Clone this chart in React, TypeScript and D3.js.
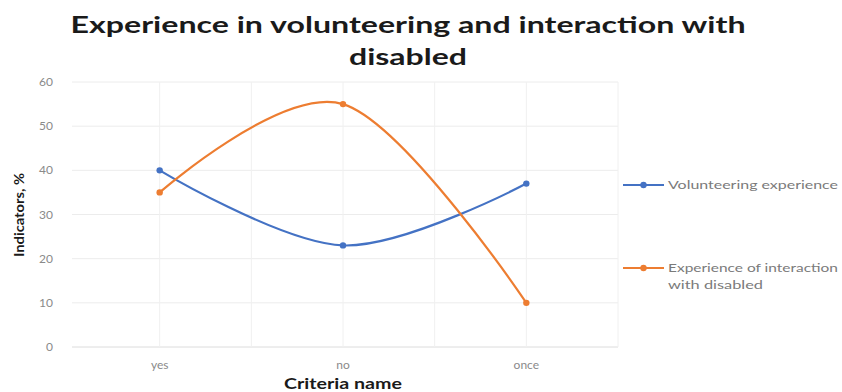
import React, { useEffect, useRef } from 'react';
import * as d3 from 'd3';

const categories = ['yes', 'no', 'once'];
const volunteering = [40, 23, 37];
const interaction = [35, 55, 10];
const yTicks = [0, 10, 20, 30, 40, 50, 60];
const seriesNames = ['Volunteering experience', 'Experience of interaction with disabled'];
const colors = ['#4472C4', '#ED7D31'];

const App = () => {
  const svgRef = useRef<SVGSVGElement>(null);

  useEffect(() => {
    const svg = d3.select(svgRef.current).attr('width', 842).attr('height', 392);
    svg.selectAll('*').remove();

    const left = 68, right = 618, top = 82, bottom = 347;
    const font = 'Lato, Liberation Sans, Arial, sans-serif';

    const x = d3.scaleBand().domain(categories).range([left, right]);
    const xc = (c: string) => (x(c) as number) + x.bandwidth() / 2;
    const y = d3.scaleLinear().domain([0, 60]).range([bottom, top]);

    // title
    svg.append('text')
      .attr('x', 408).attr('y', 33)
      .attr('text-anchor', 'middle')
      .attr('font-family', font).attr('font-weight', 'bold').attr('font-size', 23)
      .attr('fill', '#1a1a1a')
      .attr('textLength', 675).attr('lengthAdjust', 'spacingAndGlyphs')
      .text('Experience in volunteering and interaction with');
    svg.append('text')
      .attr('x', 408).attr('y', 65)
      .attr('text-anchor', 'middle')
      .attr('font-family', font).attr('font-weight', 'bold').attr('font-size', 23)
      .attr('fill', '#1a1a1a')
      .attr('textLength', 118).attr('lengthAdjust', 'spacingAndGlyphs')
      .text('disabled');

    // horizontal gridlines
    svg.append('g').selectAll('line').data(yTicks).enter().append('line')
      .attr('x1', left + 4).attr('x2', right)
      .attr('y1', d => y(d)).attr('y2', d => y(d))
      .attr('stroke', d => d === 0 ? '#dcdcdc' : '#ececec').attr('stroke-width', 1);

    // vertical gridlines (category centers and boundaries)
    const vlines: number[] = [];
    categories.forEach((c, i) => {
      vlines.push(xc(c));
      if (i > 0) vlines.push(x(c) as number);
    });
    vlines.push(right);
    svg.append('g').selectAll('line').data(vlines).enter().append('line')
      .attr('x1', d => d).attr('x2', d => d)
      .attr('y1', top).attr('y2', bottom)
      .attr('stroke', '#f0f0f0').attr('stroke-width', 1);

    // y tick labels
    svg.append('g').selectAll('text').data(yTicks).enter().append('text')
      .attr('x', 53).attr('y', d => y(d) + 4)
      .attr('text-anchor', 'end')
      .attr('font-family', font).attr('font-size', 12).attr('fill', '#8a8a8a')
      .text(d => d);

    // x tick labels
    svg.append('g').selectAll('text').data(categories).enter().append('text')
      .attr('x', d => xc(d)).attr('y', 369)
      .attr('text-anchor', 'middle')
      .attr('font-family', font).attr('font-size', 12).attr('fill', '#8a8a8a')
      .text(d => d);

    // axis titles
    svg.append('text')
      .attr('transform', 'translate(24,215) rotate(-90)')
      .attr('text-anchor', 'middle')
      .attr('font-family', font).attr('font-weight', 'bold').attr('font-size', 14)
      .attr('fill', '#1a1a1a')
      .attr('textLength', 84).attr('lengthAdjust', 'spacingAndGlyphs')
      .text('Indicators, %');
    svg.append('text')
      .attr('x', 343).attr('y', 389)
      .attr('text-anchor', 'middle')
      .attr('font-family', font).attr('font-weight', 'bold').attr('font-size', 15)
      .attr('fill', '#1a1a1a')
      .attr('textLength', 118).attr('lengthAdjust', 'spacingAndGlyphs')
      .text('Criteria name');

    // lines
    const line = d3.line<[string, number]>()
      .x(d => xc(d[0]))
      .y(d => y(d[1]))
      .curve(d3.curveCatmullRom.alpha(0));

    [volunteering, interaction].forEach((vals, i) => {
      const pts: [string, number][] = categories.map((c, j) => [c, vals[j]]);
      svg.append('path')
        .datum(pts)
        .attr('d', line)
        .attr('fill', 'none')
        .attr('stroke', colors[i])
        .attr('stroke-width', 2.2);
      svg.append('g').selectAll('circle').data(pts).enter().append('circle')
        .attr('cx', d => xc(d[0])).attr('cy', d => y(d[1]))
        .attr('r', 3.2)
        .attr('fill', colors[i]);
    });

    // legend
    const legendY = [185, 268];
    const legendText = (g: any, txt: string, yy: number, len: number) => {
      g.append('text')
        .attr('x', 668).attr('y', yy)
        .attr('font-family', font).attr('font-size', 12).attr('fill', '#7a7a7a')
        .attr('textLength', len).attr('lengthAdjust', 'spacingAndGlyphs')
        .text(txt);
    };
    seriesNames.forEach((name, i) => {
      const g = svg.append('g');
      g.append('line')
        .attr('x1', 623).attr('x2', 664)
        .attr('y1', legendY[i]).attr('y2', legendY[i])
        .attr('stroke', colors[i]).attr('stroke-width', 2.2);
      g.append('circle')
        .attr('cx', 643.5).attr('cy', legendY[i]).attr('r', 3.2)
        .attr('fill', colors[i]);
      if (i === 0) {
        legendText(g, name, legendY[i] + 4, 170);
      } else {
        legendText(g, 'Experience of interaction', legendY[i] + 4, 170);
        legendText(g, 'with disabled', legendY[i] + 21, 95);
      }
    });
  }, []);

  return <svg ref={svgRef} style={{ position: 'absolute', left: 0, top: 0 }}></svg>;
};

export default App;
